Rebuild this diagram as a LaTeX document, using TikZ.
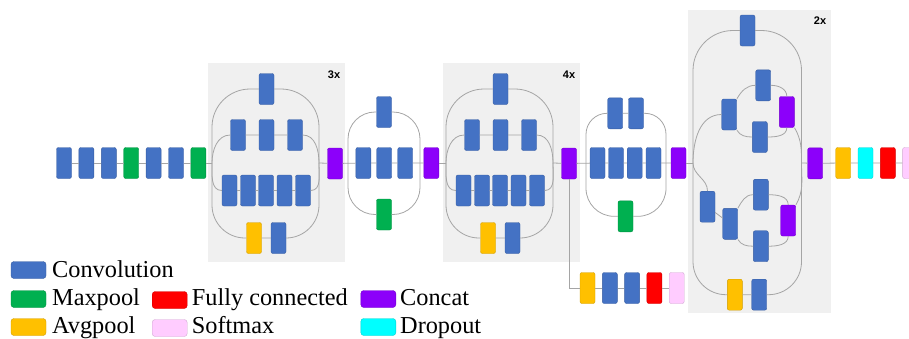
\documentclass[tikz,border=0pt]{standalone}
\usepackage{fontspec}
\setmainfont{Liberation Serif}
\newfontfamily\tagfont{Liberation Sans}

\definecolor{conv}{RGB}{68,114,196}
\definecolor{maxp}{RGB}{0,176,80}
\definecolor{avgp}{RGB}{255,192,0}
\definecolor{fcon}{RGB}{255,0,0}
\definecolor{soft}{RGB}{255,204,255}
\definecolor{cnct}{RGB}{140,0,250}
\definecolor{drop}{RGB}{0,255,255}
\definecolor{boxgray}{RGB}{240,240,240}
\definecolor{wiregray}{RGB}{165,165,165}

\tikzset{
  blk/.style={rectangle,rounded corners=2pt,minimum width=15pt,minimum height=31pt,
    inner sep=0pt,fill=#1,draw=#1!82!black,line width=0.4pt},
  swatch/.style={blk=#1,minimum width=35pt,minimum height=17pt,rounded corners=3pt},
  wire/.style={draw=wiregray,line width=0.8pt},
  legtext/.style={anchor=base west,inner sep=0pt,font=\fontsize{24.3}{28}\selectfont},
  reptag/.style={inner sep=0pt,font=\tagfont\bfseries\fontsize{11}{12}\selectfont}
}

\begin{document}
\begin{tikzpicture}[x=1pt,y=-1pt]
\useasboundingbox (0,0) rectangle (909,338);
\clip (0,0) rectangle (909,338);

% shaded repeated blocks
\fill[boxgray] (208,63) rectangle (345,262);
\fill[boxgray] (443,63) rectangle (580,262);
\fill[boxgray] (688,10) rectangle (831,313);
\node[reptag] (r3) at (334,75) {3x};
\node[reptag] (r4) at (569,75) {4x};
\node[reptag] (r2) at (820,21) {2x};

% stem
\foreach \c [count=\i from 0] in {conv,conv,conv,maxp,conv,conv,maxp}
  \node[blk=\c] (s\i) at (64+22.4*\i,163) {};
\draw[wire] (s0) -- (s1) -- (s2) -- (s3) -- (s4) -- (s5) -- (s6);

% inception modules, 3x and 4x
\foreach \m/\dx in {a/0,b/234} {
  \begin{scope}[xshift=\dx]
    \coordinate (\m-in) at (212,163);
    \coordinate (\m-out) at (319,163);
    \node[blk=conv] (\m-t) at (266.5,89) {};
    \foreach \x [count=\k] in {238,266.5,295}
      \node[blk=conv] (\m-u\k) at (\x,135) {};
    \foreach \x [count=\k] in {229.5,248,266,284.5,303}
      \node[blk=conv] (\m-v\k) at (\x,190.5) {};
    \node[blk=avgp] (\m-p) at (254,238) {};
    \node[blk=conv] (\m-q) at (278.5,238) {};
    \node[blk=cnct] (\m-c) at (335,163.5) {};
    \draw[wire,rounded corners=38pt] (\m-in) |- (\m-t.west) (\m-t.east) -| (\m-out);
    \draw[wire,rounded corners=33pt] (\m-in) |- (\m-p.west) (\m-p) -- (\m-q) (\m-q.east) -| (\m-out);
    \draw[wire] (\m-in) to[out=90,in=180] (\m-u1.west) (\m-u1) -- (\m-u2) -- (\m-u3)
      (\m-u3.east) to[out=0,in=90] (\m-out);
    \draw[wire] (\m-in) to[out=-90,in=180] (\m-v1.west) (\m-v1) -- (\m-v2) -- (\m-v3) -- (\m-v4) -- (\m-v5)
      (\m-v5.east) to[out=0,in=-90] (\m-out);
    \draw[wire] (\m-out) -- (\m-c);
  \end{scope}
}
\draw[wire] (s6) -- (a-in);

% reduction module
\coordinate (m-in) at (348,163);
\coordinate (m-out) at (420,163);
\node[blk=conv] (m-t) at (384,112) {};
\foreach \x [count=\k] in {363.3,384.2,405.2}
  \node[blk=conv] (m-u\k) at (\x,163) {};
\node[blk=maxp] (m-p) at (384,214.5) {};
\node[blk=cnct] (m-c) at (431.3,163) {};
\draw[wire] (a-c) -- (m-u1) -- (m-u2) -- (m-u3) -- (m-c);
\draw[wire,rounded corners=27pt] (m-in) |- (m-t.west) (m-t.east) -| (m-out);
\draw[wire,rounded corners=27pt] (m-in) |- (m-p.west) (m-p.east) -| (m-out);
\draw[wire] (m-c) -- (b-in);

% second reduction module
\coordinate (n-in) at (586,163);
\coordinate (n-out) at (666,163);
\node[blk=conv] (n-t1) at (615.2,113.3) {};
\node[blk=conv] (n-t2) at (636,113.3) {};
\foreach \x [count=\k] in {597.5,616,634.7,653.5}
  \node[blk=conv] (n-u\k) at (\x,163) {};
\node[blk=maxp] (n-p) at (625.5,216.3) {};
\node[blk=cnct] (n-c) at (678.5,163) {};
\draw[wire] (b-c) -- (n-u1) -- (n-u2) -- (n-u3) -- (n-u4) -- (n-c);
\draw[wire,rounded corners=21pt] (n-in) |- (n-t1.west) (n-t1) -- (n-t2) (n-t2.east) -| (n-out);
\draw[wire,rounded corners=28pt] (n-in) |- (n-p.west) (n-p.east) -| (n-out);

% auxiliary classifier
\foreach \c [count=\i] in {avgp,conv,conv,fcon,soft}
  \node[blk=\c] (x\i) at (587.5+22.3*\i-22.3,288) {};
\draw[wire] (b-c.south) |- (x1) (x1) -- (x2) -- (x3) -- (x4) -- (x5);

% inception module, 2x
\coordinate (d-in) at (693,163);
\coordinate (d-out) at (801.5,163);
\node[blk=conv] (d-t) at (747.5,30.5) {};
\node[blk=avgp] (d-p) at (734.8,294.7) {};
\node[blk=conv] (d-q) at (759.2,294.7) {};
\node[blk=conv] (d-a1) at (729.2,114.5) {};
\node[blk=conv] (d-a2) at (763.2,85.3) {};
\node[blk=conv] (d-a3) at (759.8,137) {};
\node[blk=cnct] (d-ac) at (786.8,112) {};
\node[blk=conv] (d-b1) at (707.5,206.7) {};
\node[blk=conv] (d-b2) at (730.2,223.8) {};
\node[blk=conv] (d-b3) at (760.8,194.7) {};
\node[blk=conv] (d-b4) at (760.8,246.2) {};
\node[blk=cnct] (d-bc) at (788.2,220.5) {};
\node[blk=cnct] (d-c) at (815.2,163.3) {};
\draw[wire] (n-c) -- (d-in);
\draw[wire,rounded corners=40pt] (d-in) |- (d-t.west) (d-t.east) -| (d-out);
\draw[wire,rounded corners=33pt] (d-in) |- (d-p.west) (d-p) -- (d-q) (d-q.east) -| (d-out);
% upper split
\draw[wire] (d-in) to[out=90,in=180] (d-a1.west);
\draw[wire] (d-a1.north east) to[out=60,in=180] (d-a2.west) (d-a2.east) to[out=0,in=90] (d-ac.north);
\draw[wire] (d-a1.south east) to[out=-60,in=180] (d-a3.west) (d-a3.east) to[out=0,in=-90] (d-ac.south);
\draw[wire] (d-ac.south east) to[out=-60,in=90] (d-out);
% lower split
\draw[wire] (d-in) to[out=-90,in=90] (d-b1.north);
\draw[wire] (d-b1) -- (d-b2);
\draw[wire] (d-b2.north east) to[out=60,in=180] (d-b3.west) (d-b3.east) to[out=0,in=90] (d-bc.north);
\draw[wire] (d-b2.south east) to[out=-60,in=180] (d-b4.west) (d-b4.east) to[out=0,in=-90] (d-bc.south);
\draw[wire] (d-bc.north east) to[out=60,in=-90] (d-out);

% head
\foreach \c [count=\i] in {avgp,drop,fcon,soft}
  \node[blk=\c] (f\i) at (843.2+22.3*\i-22.3,163) {};
\draw[wire] (d-out) -- (d-c) -- (f1) -- (f2) -- (f3) -- (f4);

% legend
\node[swatch=conv] (k1) at (28.5,270) {};
\node[legtext] (l1) at (52,277) {Convolution};
\node[swatch=maxp] (k2) at (28.5,299) {};
\node[legtext] (l2) at (52,305) {Maxpool};
\node[swatch=avgp] (k3) at (28.5,327) {};
\node[legtext] (l3) at (52,333.3) {Avgpool};
\node[swatch=fcon] (k4) at (169.7,300) {};
\node[legtext] (l4) at (191.7,305) {Fully connected};
\node[swatch=soft] (k5) at (169.7,328) {};
\node[legtext] (l5) at (191.7,333.3) {Softmax};
\node[swatch=cnct] (k6) at (378.3,299) {};
\node[legtext] (l6) at (400,305) {Concat};
\node[swatch=drop] (k7) at (378.3,327) {};
\node[legtext] (l7) at (400,333.3) {Dropout};
\end{tikzpicture}
\end{document}
